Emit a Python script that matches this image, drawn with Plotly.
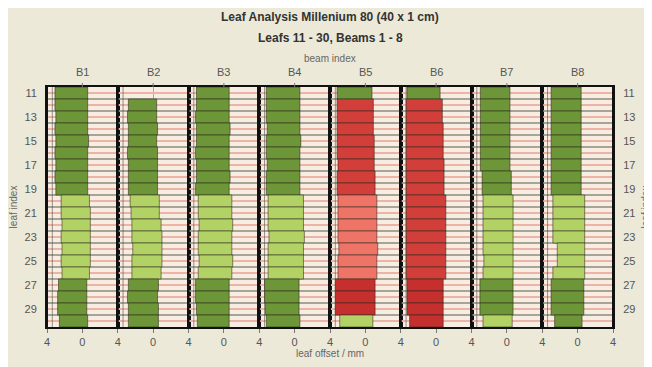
import plotly.graph_objects as go
from plotly.subplots import make_subplots

LEAVES = list(range(11, 31))
BEAMS = ["B1", "B2", "B3", "B4", "B5", "B6", "B7", "B8"]
Y_TICK_LEAVES = [11, 13, 15, 17, 19, 21, 23, 25, 27, 29]
X_TICKVALS = [-4, 0, 4]
X_TICKTEXT = ["4", "0", "4"]
REF_OFFSET = -3.4

# leaf edges (mm) per beam, leaves 11..30
B1_LEFT = [-3.1, -3.1, -3.0, -3.1, -3.0, -3.1, -3.0, -3.1, -3.0, -2.4, -2.4, -2.3, -2.4, -2.3, -2.4, -2.3, -2.7, -2.8, -2.8, -2.6]
B1_RIGHT = [0.6, 0.6, 0.6, 0.6, 0.7, 0.6, 0.6, 0.6, 0.6, 0.8, 0.9, 0.9, 0.9, 0.9, 0.9, 0.8, 0.5, 0.5, 0.5, 0.6]
B2_LEFT = [None, -2.8, -2.9, -2.8, -2.8, -2.9, -2.8, -2.8, -2.8, -2.6, -2.5, -2.4, -2.4, -2.3, -2.4, -2.4, -2.8, -2.9, -2.8, -2.8]
B2_RIGHT = [None, 0.4, 0.4, 0.5, 0.4, 0.5, 0.5, 0.5, 0.5, 0.7, 0.7, 0.9, 1.0, 1.0, 1.0, 0.9, 0.6, 0.5, 0.6, 0.6]
B3_LEFT = [-3.1, -3.1, -3.2, -3.1, -3.1, -3.2, -3.1, -3.1, -3.2, -2.9, -2.9, -2.8, -2.9, -2.9, -2.8, -2.9, -3.2, -3.2, -3.1, -3.0]
B3_RIGHT = [0.6, 0.6, 0.6, 0.7, 0.6, 0.6, 0.6, 0.7, 0.6, 0.9, 0.9, 1.0, 0.9, 0.9, 1.0, 0.9, 0.6, 0.6, 0.6, 0.6]
B4_LEFT = [-3.2, -3.2, -3.2, -3.1, -3.2, -3.2, -3.1, -3.2, -3.2, -3.0, -3.0, -3.0, -2.9, -3.0, -3.0, -3.0, -3.4, -3.4, -3.3, -3.2]
B4_RIGHT = [0.6, 0.6, 0.6, 0.6, 0.7, 0.6, 0.6, 0.6, 0.6, 1.0, 1.0, 1.0, 1.1, 1.0, 1.0, 1.0, 0.5, 0.5, 0.5, 0.6]
B5_LEFT = [-3.2, -3.2, -3.2, -3.2, -3.2, -3.2, -3.1, -3.2, -3.2, -3.1, -3.1, -3.1, -3.1, -3.0, -3.1, -3.1, -3.4, -3.4, -3.4, -2.9]
B5_RIGHT = [0.75, 0.9, 0.9, 0.9, 1.0, 1.0, 1.0, 1.1, 1.1, 1.3, 1.3, 1.3, 1.3, 1.4, 1.3, 1.3, 1.1, 1.1, 1.1, 0.85]
B6_LEFT = [-3.3, -3.4, -3.4, -3.4, -3.4, -3.4, -3.4, -3.4, -3.4, -3.4, -3.4, -3.4, -3.4, -3.4, -3.4, -3.4, -3.3, -3.3, -3.3, -3.0]
B6_RIGHT = [0.45, 0.7, 0.7, 0.8, 0.8, 0.8, 0.9, 0.9, 0.9, 1.1, 1.1, 1.1, 1.1, 1.1, 1.1, 1.1, 0.8, 0.8, 0.8, 0.8]
B7_LEFT = [-3.0, -3.0, -3.0, -3.0, -3.0, -3.0, -3.0, -2.8, -2.8, -2.7, -2.7, -2.7, -2.7, -2.7, -2.6, -2.7, -3.05, -3.05, -3.05, -2.7]
B7_RIGHT = [0.35, 0.35, 0.35, 0.35, 0.35, 0.35, 0.35, 0.5, 0.5, 0.7, 0.7, 0.7, 0.7, 0.7, 0.7, 0.7, 0.7, 0.7, 0.7, 0.6]
B8_LEFT = [-3.0, -3.0, -3.0, -3.0, -3.0, -3.0, -3.0, -3.0, -3.0, -2.8, -2.8, -2.8, -2.8, -2.3, -2.3, -2.8, -3.0, -3.0, -3.0, -2.6]
B8_RIGHT = [0.4, 0.4, 0.4, 0.4, 0.4, 0.4, 0.4, 0.4, 0.4, 0.8, 0.8, 0.8, 0.8, 0.8, 0.8, 0.8, 0.7, 0.7, 0.7, 0.5]

# leaf status: G ok, L ok (light), R error, P error (light), D error (dark)
B1_STATE = ["G"] * 9 + ["L"] * 7 + ["G"] * 4
B2_STATE = ["G"] * 9 + ["L"] * 7 + ["G"] * 4
B3_STATE = ["G"] * 9 + ["L"] * 7 + ["G"] * 4
B4_STATE = ["G"] * 9 + ["L"] * 7 + ["G"] * 4
B5_STATE = ["G"] + ["R"] * 8 + ["P"] * 7 + ["D"] * 3 + ["L"]
B6_STATE = ["G"] + ["R"] * 15 + ["D"] * 4
B7_STATE = ["G"] * 9 + ["L"] * 7 + ["G"] * 3 + ["L"]
B8_STATE = ["G"] * 9 + ["L"] * 7 + ["G"] * 4

STATE_COLORS = {"G": "#6c9637", "L": "#b2d266", "R": "#d23e39", "P": "#ef7468", "D": "#c5302e"}

LEFTS = [B1_LEFT, B2_LEFT, B3_LEFT, B4_LEFT, B5_LEFT, B6_LEFT, B7_LEFT, B8_LEFT]
RIGHTS = [B1_RIGHT, B2_RIGHT, B3_RIGHT, B4_RIGHT, B5_RIGHT, B6_RIGHT, B7_RIGHT, B8_RIGHT]
STATES = [B1_STATE, B2_STATE, B3_STATE, B4_STATE, B5_STATE, B6_STATE, B7_STATE, B8_STATE]

FONT = "Liberation Sans, Arial, sans-serif"
TICKFONT = dict(family=FONT, size=11, color="#555")
LABELFONT = dict(family=FONT, size=10, color="#666")

# the page body adds an 8px offset, so the figure is 8px smaller on each axis
PLOT_TOP = 87      # page y of the plot top
PLOT_H = 240

fig = make_subplots(rows=1, cols=8, shared_yaxes=True, horizontal_spacing=0)

for i in range(8):
    left, right, state = LEFTS[i], RIGHTS[i], STATES[i]
    widths = [None if l is None else r - l for l, r in zip(left, right)]
    fig.add_trace(go.Bar(
        y=LEAVES, x=widths, base=left, orientation="h", width=1,
        marker=dict(color=[STATE_COLORS[s] for s in state],
                    line=dict(color="rgba(45,40,25,0.55)", width=1)),
        showlegend=False, hoverinfo="skip"), row=1, col=i + 1)

boundaries = [l - 0.5 for l in LEAVES] + [LEAVES[-1] + 0.5]
ytext = [str(l) if l in Y_TICK_LEAVES else "" for l in LEAVES]

for i in range(8):
    n = "" if i == 0 else str(i + 1)
    tv = X_TICKVALS if i == 7 else X_TICKVALS[:2]
    tt = X_TICKTEXT if i == 7 else X_TICKTEXT[:2]
    fig.layout["xaxis" + n].update(
        range=[-4, 4], tickvals=tv, ticktext=tt, ticks="outside", ticklen=4,
        tickcolor="#777", tickfont=TICKFONT, showline=True, mirror=True,
        linecolor="#111", linewidth=2, showgrid=True,
        gridcolor="rgba(110,110,100,0.55)", gridwidth=1, zeroline=False,
        automargin=False, fixedrange=True)
    fig.layout["yaxis" + n].update(
        range=[LEAVES[-1] + 0.5, LEAVES[0] - 0.5], tickvals=LEAVES, ticktext=ytext,
        ticks="", tickfont=TICKFONT, showline=True, mirror=True,
        linecolor="#111", linewidth=2, showgrid=True,
        gridcolor="#ecb4a6", gridwidth=2, zeroline=False,
        minor=dict(tickvals=boundaries, showgrid=True,
                   gridcolor="rgba(150,150,135,0.85)", gridwidth=2, ticks=""),
        ticklabelstandoff=6, automargin=False, fixedrange=True)
    # reference line inside the panel
    fig.add_shape(type="line", xref="x" + n, yref="y" + n + " domain",
                  x0=REF_OFFSET, x1=REF_OFFSET, y0=0, y1=1,
                  line=dict(color="rgba(70,70,60,0.55)", width=1), layer="above")
    # beam label and top tick
    fig.add_annotation(text=BEAMS[i], xref="x" + n, yref="paper", x=0,
                       y=1 + 15 / PLOT_H, showarrow=False, font=TICKFONT,
                       yanchor="middle")
    fig.add_shape(type="line", xref="x" + n, yref="y" + n + " domain",
                  x0=0, x1=0, y0=1, y1=1 + 4 / PLOT_H,
                  line=dict(color="#777", width=1), layer="above")

# panel borders on top of everything
for k in range(9):
    fig.add_shape(type="line", xref="paper", yref="paper", x0=k / 8, x1=k / 8,
                  y0=0, y1=1, line=dict(color="#111", width=2), layer="above")

fig.layout.yaxis.update(title=dict(text="leaf index", font=LABELFONT, standoff=8))
fig.layout.yaxis8.update(showticklabels=True, side="right",
                         title=dict(text="leaf index", font=LABELFONT, standoff=8))

fig.add_annotation(text="<b>Leaf Analysis Millenium 80 (40 x 1 cm)</b>", xref="paper", yref="paper",
                   x=0.5, y=1 + (PLOT_TOP - 17) / PLOT_H, showarrow=False,
                   font=dict(family=FONT, size=12, color="#333"), yanchor="middle")
fig.add_annotation(text="<b>Leafs 11 - 30, Beams 1 - 8</b>", xref="paper", yref="paper",
                   x=0.5, y=1 + (PLOT_TOP - 38) / PLOT_H, showarrow=False,
                   font=dict(family=FONT, size=12, color="#333"), yanchor="middle")
fig.add_annotation(text="beam index", xref="paper", yref="paper",
                   x=0.5, y=1 + (PLOT_TOP - 59) / PLOT_H, showarrow=False,
                   font=LABELFONT, yanchor="middle")
fig.add_annotation(text="leaf offset / mm", xref="paper", yref="paper",
                   x=0.5, y=-(353 - (PLOT_TOP + PLOT_H)) / PLOT_H, showarrow=False,
                   font=LABELFONT, yanchor="middle")

fig.update_layout(
    width=644, height=359, margin=dict(l=39, r=39, t=79, b=40, autoexpand=False),
    paper_bgcolor="#ece9d8", plot_bgcolor="#f8ede3",
    barmode="overlay", font=dict(family=FONT))

fig.write_html("out.html")
